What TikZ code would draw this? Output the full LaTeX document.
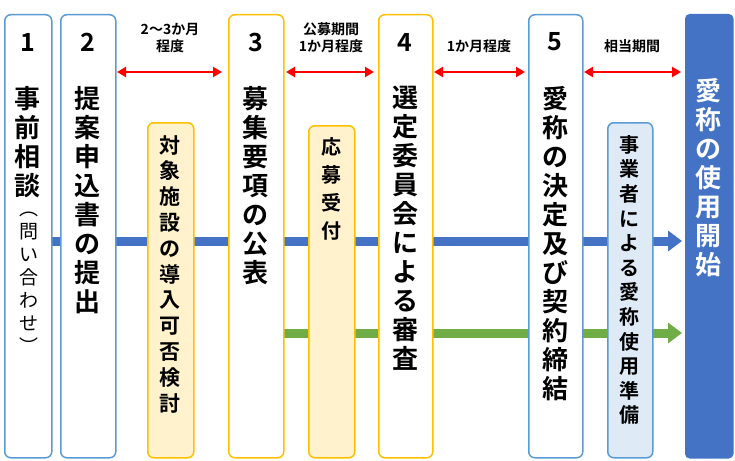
\documentclass[tikz,border=0pt]{standalone}
\usepackage{fontspec}
\setmainfont{Noto Sans CJK JP}[BoldFont={* Bold}]
\usetikzlibrary{arrows.meta}
\definecolor{bb}{HTML}{5B9BD5}
\definecolor{db}{HTML}{4472C4}
\definecolor{og}{HTML}{FFC000}
\definecolor{yl}{HTML}{FFF2CC}
\definecolor{lb}{HTML}{DEEBF7}
\definecolor{gr}{HTML}{70AD47}
\tikzset{
 box/.style={draw=#1,line width=1.5pt,rounded corners=6pt,fill=white},
 vt/.style={anchor=north,align=center,inner sep=0pt,font=\bfseries\fontsize{26}{29}\selectfont},
 vs/.style={anchor=north,align=center,inner sep=0pt,font=\bfseries\fontsize{21}{25.8}\selectfont},
 num/.style={font=\bfseries\fontsize{25}{25}\selectfont},
 lab/.style={align=center,font=\bfseries\fontsize{14}{17}\selectfont},
 dur/.style={{Triangle[length=9pt,width=10pt]}-{Triangle[length=9pt,width=10pt]},red,line width=2.2pt},
 flow/.style={-{Triangle[length=14pt,width=20pt]},line width=9pt}
}
\begin{document}
\begin{tikzpicture}[x=1pt,y=-1pt]
\useasboundingbox (0,0) rectangle (735,460);
\coordinate (bs) at (52,241); \coordinate (be) at (682,241);
\coordinate (gs) at (283,333); \coordinate (ge) at (682,333);
\draw[flow,db] (bs) -- (be);
\draw[flow,gr] (gs) -- (ge);
% main boxes
\node[box=bb,minimum width=47,minimum height=443,anchor=north west] (b1) at (4,14) {};
\node[box=bb,minimum width=55,minimum height=443,anchor=north west] (b2) at (60,14) {};
\node[box=og,minimum width=55,minimum height=443,anchor=north west] (b3) at (228,14) {};
\node[box=og,minimum width=54,minimum height=443,anchor=north west] (b4) at (378,14) {};
\node[box=bb,minimum width=54,minimum height=443,anchor=north west] (b5) at (528,14) {};
\node[draw=db,fill=db,line width=1.5pt,rounded corners=4pt,minimum width=47,minimum height=443,anchor=north west] (b6) at (685,14) {};
\node[box=og,fill=yl,minimum width=46,minimum height=335,anchor=north west] (s1) at (147,122) {};
\node[box=og,fill=yl,minimum width=46,minimum height=332,anchor=north west] (s2) at (308,125) {};
\node[box=bb,fill=lb,minimum width=45,minimum height=335,anchor=north west] (s3) at (607,122) {};
% numbers
\node[num] (n1) at (27.5,42) {1};
\node[num] (n2) at (87.5,42) {2};
\node[num] (n3) at (255.5,42) {3};
\node[num] (n4) at (405,42) {4};
\node[num] (n5) at (555,42) {5};
% vertical texts
\node[vt] (t1) at (27.5,86) {事\\前\\相\\談};
\node[anchor=north,align=center,inner sep=0pt,font=\fontsize{19}{23}\selectfont] (t1b) at (29,212) {︵\\問\\い\\合\\わ\\せ\\︶};
\node[vt] (t2) at (87.5,86) {提\\案\\申\\込\\書\\の\\提\\出};
\node[vt] (t3) at (255.5,86) {募\\集\\要\\項\\の\\公\\表};
\node[vt] (t4) at (405,86) {選\\定\\委\\員\\会\\に\\よ\\る\\審\\査};
\node[vt] (t5) at (555,86) {愛\\称\\の\\決\\定\\及\\び\\契\\約\\締\\結};
\node[vt,text=white] (t6) at (708.5,78) {愛\\称\\の\\使\\用\\開\\始};
\node[vs] (u1) at (170,135) {対\\象\\施\\設\\の\\導\\入\\可\\否\\検\\討};
\node[vs,font=\bfseries\fontsize{20}{28}\selectfont] (u2) at (331,137) {応\\募\\受\\付};
\node[vs,font=\bfseries\fontsize{20}{24.6}\selectfont] (u3) at (629.5,135) {事\\業\\者\\に\\よ\\る\\愛\\称\\使\\用\\準\\備};
% durations
\node[lab] (l1) at (170,38) {2～3か月\\程度};
\node[lab] (l2) at (331,38) {公募期間\\1か月程度};
\node[lab] (l3) at (479,46) {1か月程度};
\node[lab] (l4) at (632,46) {相当期間};
\coordinate (r1a) at (117,72); \coordinate (r1b) at (222,72);
\coordinate (r2a) at (286,72); \coordinate (r2b) at (374,72);
\coordinate (r3a) at (434,72); \coordinate (r3b) at (525,72);
\coordinate (r4a) at (584,72); \coordinate (r4b) at (681,72);
\draw[dur] (r1a) -- (r1b);
\draw[dur] (r2a) -- (r2b);
\draw[dur] (r3a) -- (r3b);
\draw[dur] (r4a) -- (r4b);
\end{tikzpicture}
\end{document}
